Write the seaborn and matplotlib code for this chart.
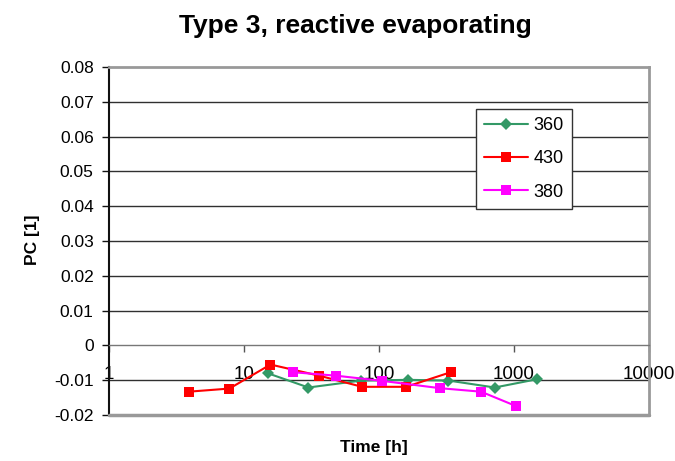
import matplotlib
matplotlib.use("Agg")
import matplotlib.pyplot as plt
import seaborn as sns
import pandas as pd
import numpy as np

# ---- data ----
t_360 = [15, 30, 74, 165, 327, 720, 1490]
pc_360 = [-0.0080, -0.0121, -0.0101, -0.0099, -0.0101, -0.0121, -0.0097]
t_430 = [3.9, 7.8, 15.7, 36, 75, 159, 340]
pc_430 = [-0.0133, -0.0124, -0.0055, -0.0087, -0.0119, -0.0119, -0.0077]
t_380 = [23, 48, 106, 284, 570, 1030]
pc_380 = [-0.0077, -0.0087, -0.0102, -0.0123, -0.0133, -0.0174]
series = ["360", "430", "380"]
colors = {"360": "#339966", "430": "#FF0000", "380": "#FF00FF"}
markers = {"360": "D", "430": "s", "380": "s"}
x_ticks = [1, 10, 100, 1000, 10000]
x_ticklabels = ["1", "10", "100", "1000", "10000"]
y_ticks = [-0.02, -0.01, 0, 0.01, 0.02, 0.03, 0.04, 0.05, 0.06, 0.07, 0.08]
y_ticklabels = ["-0.02", "-0.01", "0", "0.01", "0.02", "0.03", "0.04", "0.05", "0.06", "0.07", "0.08"]

df = pd.concat([
    pd.DataFrame({"t": t_360, "pc": pc_360, "s": "360"}),
    pd.DataFrame({"t": t_430, "pc": pc_430, "s": "430"}),
    pd.DataFrame({"t": t_380, "pc": pc_380, "s": "380"}),
], ignore_index=True)

sns.set_theme(style="white")
plt.rcParams["font.family"] = ["Liberation Sans", "DejaVu Sans"]
plt.rcParams["text.color"] = "black"

fig = plt.figure(figsize=(6.75, 4.61), dpi=100)
ax = fig.add_axes([109/675, 1-415/461, 540/675, 348/461])

sns.lineplot(data=df, x="t", y="pc", hue="s", style="s", hue_order=series,
             style_order=series, palette=colors, markers=markers, dashes=False,
             sort=False, estimator=None, lw=1.5, markersize=6.5,
             markeredgewidth=0, ax=ax, legend=True)

ax.set_xscale("log")
ax.set_xlim(1, 10000)
ax.set_ylim(-0.02, 0.08)

# gridlines
for y in y_ticks[1:-1]:
    if y != 0:
        ax.axhline(y, color="#303030", lw=1.0, zorder=0.5)

ax.set_yticks(y_ticks)
ax.set_yticklabels(y_ticklabels)
ax.set_xticks(x_ticks)
ax.set_xticklabels(x_ticklabels)
ax.xaxis.set_minor_locator(matplotlib.ticker.NullLocator())

ax.spines["bottom"].set_position(("data", 0))
ax.spines["bottom"].set_color("#777777")
ax.spines["bottom"].set_linewidth(1.0)
ax.spines["left"].set_color("#111111")
ax.spines["left"].set_linewidth(1.5)
ax.spines["top"].set_color("#999999")
ax.spines["top"].set_linewidth(2.0)
ax.spines["right"].set_color("#999999")
ax.spines["right"].set_linewidth(2.0)
ax.axhline(-0.02, color="#999999", lw=2.5, clip_on=False, zorder=3)

ax.tick_params(axis="x", direction="out", length=5, width=1, color="#555555",
               pad=10, labelsize=13.5, labelcolor="black", bottom=True)
ax.tick_params(axis="y", direction="out", length=5, width=1, color="#111111",
               pad=6, labelsize=12.5, labelcolor="black", left=True)
for lab in ax.get_xticklabels():
    lab.set_zorder(5)

ax.set_xlabel("")
ax.set_ylabel("")
fig.text(374/675, 1-447/461, "Time [h]", ha="center", va="center",
         fontsize=12.5, fontweight="bold", color="black")
fig.text(33/675, 1-240/461, "PC [1]", ha="center", va="center", rotation=90,
         fontsize=12.5, fontweight="bold", color="black")
fig.text(355/675, 1-33/461, "Type 3, reactive evaporating", ha="center", va="baseline",
         fontsize=19, fontweight="bold", color="black")

handles, labels = ax.get_legend_handles_labels()
leg = ax.legend(handles, labels, loc="upper left",
                bbox_to_anchor=((476-109)/540, (415-109)/348),
                frameon=True, fancybox=False, edgecolor="#333333",
                fontsize=13, handlelength=2.45, handletextpad=0.3,
                labelspacing=0.9, borderpad=0.45, borderaxespad=0)
leg.get_frame().set_linewidth(1.0)
leg.get_frame().set_facecolor("white")
leg.get_frame().set_alpha(1)
for txt in leg.get_texts():
    txt.set_color("black")

fig.savefig("out.png", dpi=100, facecolor="white")
